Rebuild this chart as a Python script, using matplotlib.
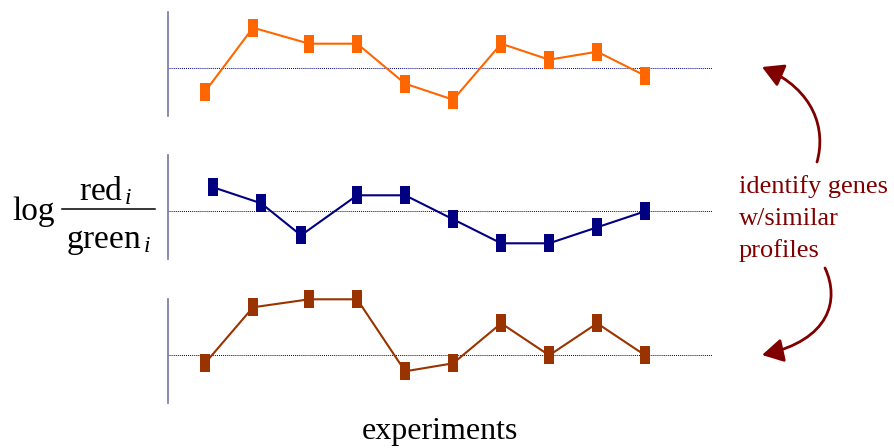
import matplotlib
matplotlib.use("Agg")
import matplotlib.pyplot as plt
from matplotlib.patches import FancyArrowPatch
from matplotlib.path import Path

# ---------------- data ----------------
# experiment positions (in experiment-spacing units) read from the picture
x_top = [1, 2, 3.17, 4.17, 5.17, 6.17, 7.17, 8.17, 9.17, 10.17]
x_mid = [1.17, 2.17, 3, 4.17, 5.17, 6.17, 7.17, 8.17, 9.17, 10.17]
x_bot = [1, 2, 3.17, 4.17, 5.17, 6.17, 7.17, 8.17, 9.17, 10.17]

# log(red/green) profiles (arbitrary units)
gene_a = [-3, 5, 3, 3, -2, -4, 3, 1, 2, -1]
gene_b = [3, 1, -3, 2, 2, -1, -4, -4, -2, 0]
gene_c = [-1, 6, 7, 7, -2, -1, 4, 0, 4, 0]

colors = ["#ff6600", "#000080", "#993300"]
xlabel = "experiments"
num_label = r"$\mathrm{red}_{\,i}$"
den_label = r"$\mathrm{green}_{\,i}$"
note_lines = ["identify genes", "w/similar", "profiles"]

# ---------------- figure ----------------
W, H = 895, 448
plt.rcParams["mathtext.fontset"] = "custom"
plt.rcParams["mathtext.rm"] = "Liberation Serif"
plt.rcParams["mathtext.it"] = "Liberation Serif:italic"
plt.rcParams["font.family"] = ["Liberation Serif", "DejaVu Serif"]

fig = plt.figure(figsize=(W / 100, H / 100), dpi=100)

rect_marker = [(-5, -9), (5, -9), (5, 9), (-5, 9), (-5, -9)]

panels = [
    (x_top, gene_a, colors[0], 115.7),
    (x_mid, gene_b, colors[1], 259.3),
    (x_bot, gene_c, colors[2], 403.3),
]

left_px, right_px = 168.5, 712
for xs, ys, col, bottom_px in panels:
    ax = fig.add_axes([left_px / W, (H - bottom_px) / H,
                       (right_px - left_px) / W, 104 / H])
    ax.set_xlim(1 - (205 - left_px) / 48, 1 + (right_px - 205) / 48)
    ax.set_ylim(-6, 7)
    ax.patch.set_visible(False)
    for s in ["top", "right", "bottom"]:
        ax.spines[s].set_visible(False)
    ax.spines["left"].set_color("#7474aa")
    ax.spines["left"].set_linewidth(1.2)
    ax.set_xticks([])
    ax.set_yticks([])
    ax.axhline(0, color="#000080", lw=0.7, ls=(0, (1, 1)), zorder=1)
    ax.plot(xs, ys, color=col, lw=1.5, zorder=2, clip_on=False)
    ax.plot(xs, ys, ls="none", marker=rect_marker, markersize=13,
            markerfacecolor=col, markeredgewidth=0, zorder=3, clip_on=False)

# overlay for annotations
ov = fig.add_axes([0, 0, 1, 1])
ov.set_xlim(0, W)
ov.set_ylim(H, 0)
ov.axis("off")
ov.patch.set_visible(False)

# y label: log red_i / green_i
ov.text(12, 220, "log", fontsize=24, ha="left", va="baseline")
ov.text(106, 200, num_label, fontsize=24, ha="center", va="baseline")
ov.text(108, 248, den_label, fontsize=24, ha="center", va="baseline")
ov.plot([62, 155], [209, 209], color="black", lw=1.1)

ov.text(440, 439, xlabel, fontsize=23, ha="center", va="baseline")

for txt, yb in zip(note_lines, [193, 225, 257]):
    ov.text(739, yb, txt, fontsize=19, color="#800000", ha="left",
            va="baseline")

curves = [
    [(817, 162), (826, 130), (815, 90), (762, 67)],
    [(825, 268), (840, 300), (830, 340), (762, 355)],
]
for verts in curves:
    path = Path(verts, [Path.MOVETO, Path.CURVE4, Path.CURVE4, Path.CURVE4])
    arr = FancyArrowPatch(path=path,
                          arrowstyle="-|>,head_length=0.8,head_width=0.45",
                          mutation_scale=16, color="#800000", lw=2,
                          shrinkA=0, shrinkB=0)
    ov.add_patch(arr)

fig.savefig("out.png", dpi=100)
